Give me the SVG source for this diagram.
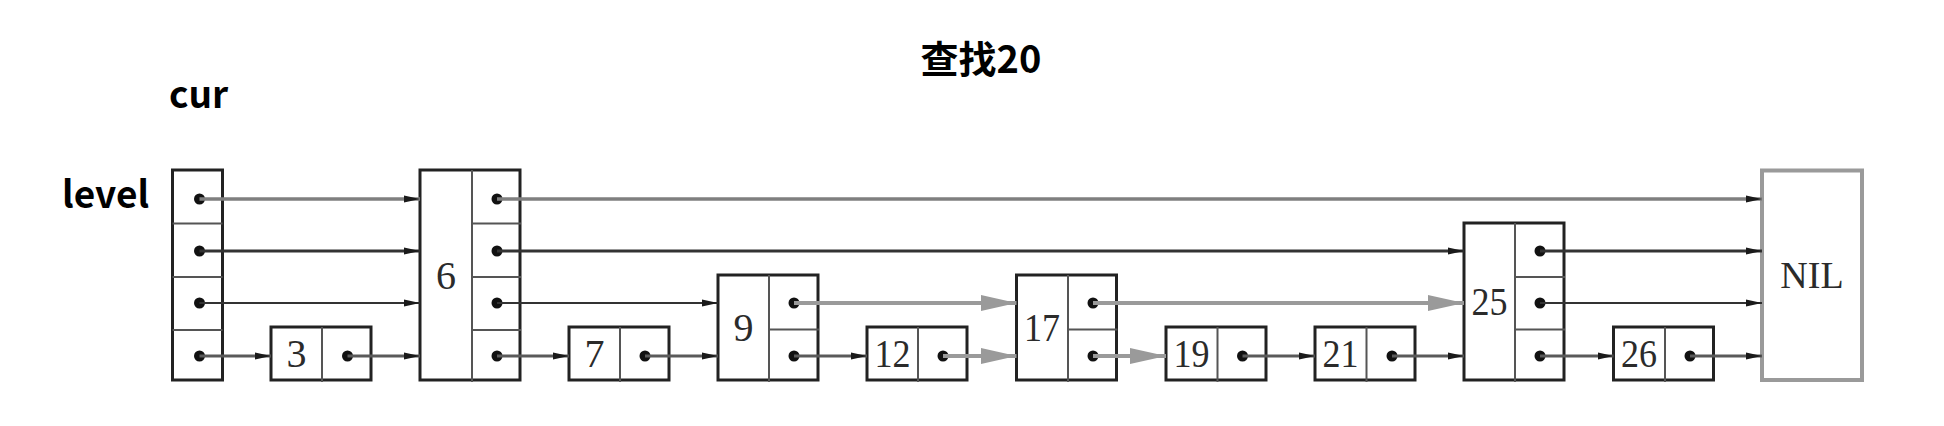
<svg xmlns="http://www.w3.org/2000/svg" width="1944" height="426" viewBox="0 0 1944 426">
<style>
.box{fill:#fff;stroke:#222;stroke-width:3}
.nil{fill:#fff;stroke:#9a9a9a;stroke-width:4}
.div{stroke:#555;stroke-width:2}
.dot{fill:#111}
.num{font-family:"Liberation Serif","Times New Roman",serif;font-size:40px;fill:#2b2b2b;text-anchor:middle}
.lbl{font-family:"Noto Sans CJK SC","Noto Sans",sans-serif;font-weight:bold;font-size:37px;fill:#000}
.l4{stroke:#7f7f7f;stroke-width:3.5;fill:none;marker-end:url(#sa)}
.l3{stroke:#333;stroke-width:3;fill:none;marker-end:url(#sa)}
.l2{stroke:#333;stroke-width:2;fill:none;marker-end:url(#sa)}
.l1{stroke:#5a5a5a;stroke-width:3;fill:none;marker-end:url(#sa)}
.g{stroke:#9a9a9a;stroke-width:4;fill:none;marker-end:url(#ga)}
</style>
<defs>
<marker id="sa" markerUnits="userSpaceOnUse" markerWidth="18" markerHeight="10" refX="16" refY="5" orient="auto">
<path d="M0,1.5 L16,5 L0,8.5 Z" fill="#1a1a1a"/>
</marker>
<marker id="ga" markerUnits="userSpaceOnUse" markerWidth="38" markerHeight="18" refX="36" refY="9" orient="auto">
<path d="M0,1 L36,9 L0,17 Z" fill="#9a9a9a"/>
</marker>
</defs>
<rect width="1944" height="426" fill="#fff"/>

<g id="title">
<text class="lbl" x="981" y="73" text-anchor="middle" style="font-size:38px">查找20</text>
</g>
<g id="label-cur"><text class="lbl" x="169" y="108">cur</text></g>
<g id="label-level"><text class="lbl" x="62" y="208">level</text></g>

<g id="node-head">
<rect class="box" x="172.5" y="170" width="50" height="210"/>
<line class="div" x1="172.5" y1="223.5" x2="222.5" y2="223.5"/>
<line class="div" x1="172.5" y1="277" x2="222.5" y2="277"/>
<line class="div" x1="172.5" y1="330" x2="222.5" y2="330"/>
<circle class="dot" cx="199.5" cy="199" r="5.5"/>
<circle class="dot" cx="199.5" cy="251" r="5.5"/>
<circle class="dot" cx="199.5" cy="303" r="5.5"/>
<circle class="dot" cx="199.5" cy="356" r="5.5"/>
</g>

<g id="node-3">
<rect class="box" x="271" y="327" width="100" height="53"/>
<line class="div" x1="322" y1="327" x2="322" y2="382"/>
<text class="num" x="296.5" y="367">3</text>
<circle class="dot" cx="347.5" cy="356" r="5.5"/>
</g>

<g id="node-6">
<rect class="box" x="420" y="170" width="100" height="210"/>
<line class="div" x1="472" y1="170" x2="472" y2="382"/>
<line class="div" x1="472" y1="223.5" x2="521" y2="223.5"/>
<line class="div" x1="472" y1="277" x2="521" y2="277"/>
<line class="div" x1="472" y1="330" x2="521" y2="330"/>
<text class="num" x="446" y="289">6</text>
<circle class="dot" cx="497" cy="199" r="5.5"/>
<circle class="dot" cx="497" cy="251" r="5.5"/>
<circle class="dot" cx="497" cy="303" r="5.5"/>
<circle class="dot" cx="497" cy="356" r="5.5"/>
</g>

<g id="node-7">
<rect class="box" x="569" y="327" width="100" height="53"/>
<line class="div" x1="620" y1="327" x2="620" y2="382"/>
<text class="num" x="594.5" y="367">7</text>
<circle class="dot" cx="645" cy="356" r="5.5"/>
</g>

<g id="node-9">
<rect class="box" x="718" y="275" width="100" height="105"/>
<line class="div" x1="769" y1="275" x2="769" y2="382"/>
<line class="div" x1="769" y1="329.5" x2="819" y2="329.5"/>
<text class="num" x="743.5" y="341">9</text>
<circle class="dot" cx="794" cy="303" r="5.5"/>
<circle class="dot" cx="794" cy="356" r="5.5"/>
</g>

<g id="node-12">
<rect class="box" x="867" y="327" width="100" height="53"/>
<line class="div" x1="918" y1="327" x2="918" y2="382"/>
<text class="num" x="892.5" y="367" textLength="36" lengthAdjust="spacingAndGlyphs">12</text>
<circle class="dot" cx="943" cy="356" r="5.5"/>
</g>

<g id="node-17">
<rect class="box" x="1016.5" y="275" width="100" height="105"/>
<line class="div" x1="1068" y1="275" x2="1068" y2="382"/>
<line class="div" x1="1068" y1="329.5" x2="1117.5" y2="329.5"/>
<text class="num" x="1042" y="341" textLength="36" lengthAdjust="spacingAndGlyphs">17</text>
<circle class="dot" cx="1093" cy="303" r="5.5"/>
<circle class="dot" cx="1093" cy="356" r="5.5"/>
</g>

<g id="node-19">
<rect class="box" x="1166" y="327" width="100" height="53"/>
<line class="div" x1="1217.5" y1="327" x2="1217.5" y2="382"/>
<text class="num" x="1191.5" y="367" textLength="36" lengthAdjust="spacingAndGlyphs">19</text>
<circle class="dot" cx="1242.5" cy="356" r="5.5"/>
</g>

<g id="node-21">
<rect class="box" x="1315" y="327" width="100" height="53"/>
<line class="div" x1="1366.5" y1="327" x2="1366.5" y2="382"/>
<text class="num" x="1340.5" y="367" textLength="36" lengthAdjust="spacingAndGlyphs">21</text>
<circle class="dot" cx="1392" cy="356" r="5.5"/>
</g>

<g id="node-25">
<rect class="box" x="1464" y="223" width="100" height="157"/>
<line class="div" x1="1515" y1="223" x2="1515" y2="382"/>
<line class="div" x1="1515" y1="277" x2="1565" y2="277"/>
<line class="div" x1="1515" y1="329.5" x2="1565" y2="329.5"/>
<text class="num" x="1489.5" y="315" textLength="36" lengthAdjust="spacingAndGlyphs">25</text>
<circle class="dot" cx="1540" cy="251" r="5.5"/>
<circle class="dot" cx="1540" cy="303" r="5.5"/>
<circle class="dot" cx="1540" cy="356" r="5.5"/>
</g>

<g id="node-26">
<rect class="box" x="1613.5" y="327" width="100" height="53"/>
<line class="div" x1="1665" y1="327" x2="1665" y2="382"/>
<text class="num" x="1639" y="367" textLength="36" lengthAdjust="spacingAndGlyphs">26</text>
<circle class="dot" cx="1690" cy="356" r="5.5"/>
</g>

<g id="node-nil">
<rect class="nil" x="1762" y="170.5" width="100" height="209.5"/>
<text class="num" x="1812" y="287.5" style="font-size:38px">NIL</text>
</g>

<g id="connectors">
<line class="l4" x1="199.5" y1="199" x2="420" y2="199"/>
<line class="l4" x1="497" y1="199" x2="1762" y2="199"/>
<line class="l3" x1="199.5" y1="251" x2="420" y2="251"/>
<line class="l3" x1="497" y1="251" x2="1464" y2="251"/>
<line class="l3" x1="1540" y1="251" x2="1762" y2="251"/>
<line class="l2" x1="199.5" y1="303" x2="420" y2="303"/>
<line class="l2" x1="497" y1="303" x2="718" y2="303"/>
<line class="g" x1="794" y1="303" x2="1016.5" y2="303"/>
<line class="g" x1="1093" y1="303" x2="1464" y2="303"/>
<line class="l2" x1="1540" y1="303" x2="1762" y2="303"/>
<line class="l1" x1="199.5" y1="356" x2="271" y2="356"/>
<line class="l1" x1="347.5" y1="356" x2="420" y2="356"/>
<line class="l1" x1="497" y1="356" x2="569" y2="356"/>
<line class="l1" x1="645" y1="356" x2="718" y2="356"/>
<line class="l1" x1="794" y1="356" x2="867" y2="356"/>
<line class="g" x1="943" y1="356" x2="1016.5" y2="356"/>
<line class="g" x1="1093" y1="356" x2="1166" y2="356"/>
<line class="l1" x1="1242.5" y1="356" x2="1315" y2="356"/>
<line class="l1" x1="1392" y1="356" x2="1464" y2="356"/>
<line class="l1" x1="1540" y1="356" x2="1613.5" y2="356"/>
<line class="l1" x1="1690" y1="356" x2="1762" y2="356"/>
</g>
</svg>
